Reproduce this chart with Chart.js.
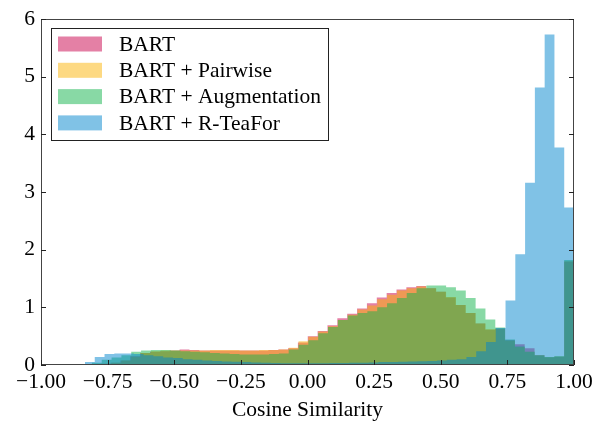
<!DOCTYPE html>
<html>
<head>
<meta charset="utf-8">
<script src="https://cdn.jsdelivr.net/npm/chart.js@4.4.1/dist/chart.umd.min.js"></script>
<style>
  body { margin: 0; background: #fff; }
  canvas { display: block; }
</style>
</head>
<body>
<canvas id="histChart" width="598" height="425"></canvas>
<script>
// series labels, in drawing order (first one is at the bottom)
const seriesNames = ['BART', 'BART + Pairwise', 'BART + Augmentation', 'BART + R-TeaFor'];

// each histogram has 50 bins from its own minimum up to 1.0
const binCount = 50;
const binMax = 1.0;
const binMinBart = -0.850;
const binMinPairwise = -0.846;
const binMinAugment = -0.846;
const binMinTeaFor = -0.835;

// density values, one per bin
const densityBart = [
    0.00, 0.01, 0.02, 0.04, 0.08, 0.15, 0.21, 0.23, 0.24, 0.25,
    0.27, 0.26, 0.25, 0.25, 0.25, 0.25, 0.25, 0.25, 0.25, 0.26,
    0.27, 0.29, 0.39, 0.50, 0.59, 0.69, 0.81, 0.89, 0.98, 1.07,
    1.17, 1.25, 1.31, 1.35, 1.37, 1.33, 1.27, 1.17, 1.04, 0.90,
    0.72, 0.61, 0.63, 0.43, 0.36, 0.29, 0.17, 0.13, 0.14, 1.79
];
const densityPairwise = [
    0.00, 0.01, 0.02, 0.04, 0.08, 0.14, 0.21, 0.24, 0.25, 0.25,
    0.25, 0.25, 0.25, 0.26, 0.26, 0.26, 0.25, 0.25, 0.26, 0.26,
    0.27, 0.30, 0.41, 0.49, 0.58, 0.67, 0.78, 0.87, 0.96, 1.03,
    1.14, 1.22, 1.29, 1.33, 1.36, 1.33, 1.27, 1.18, 1.04, 0.90,
    0.72, 0.62, 0.63, 0.42, 0.31, 0.23, 0.17, 0.14, 0.15, 1.80
];
const densityAugment = [
    0.01, 0.04, 0.09, 0.13, 0.17, 0.23, 0.25, 0.26, 0.26, 0.25,
    0.24, 0.23, 0.22, 0.21, 0.20, 0.19, 0.18, 0.18, 0.18, 0.19,
    0.20, 0.27, 0.35, 0.43, 0.55, 0.66, 0.78, 0.86, 0.90, 0.93,
    1.00, 1.07, 1.16, 1.25, 1.33, 1.38, 1.38, 1.35, 1.29, 1.16,
    0.98, 0.79, 0.65, 0.44, 0.32, 0.23, 0.17, 0.14, 0.15, 1.82
];
const densityTeaFor = [
    0.05, 0.14, 0.19, 0.20, 0.20, 0.19, 0.17, 0.15, 0.13, 0.12,
    0.10, 0.09, 0.08, 0.07, 0.06, 0.055, 0.05, 0.045, 0.04, 0.035,
    0.03, 0.03, 0.03, 0.03, 0.03, 0.035, 0.035, 0.04, 0.04, 0.045,
    0.05, 0.05, 0.055, 0.06, 0.065, 0.07, 0.08, 0.09, 0.10, 0.14,
    0.24, 0.40, 0.64, 1.12, 1.92, 3.16, 4.81, 5.73, 3.77, 2.73
];

// tick values
const xTicks = [-1, -0.75, -0.5, -0.25, 0, 0.25, 0.5, 0.75, 1];
const yTicks = [0, 1, 2, 3, 4, 5, 6];

const colors = [
    'rgba(201, 1, 75, 0.5)',
    'rgba(251, 179, 5, 0.5)',
    'rgba(17, 179, 75, 0.5)',
    'rgba(1, 133, 205, 0.5)'
];

const FONT = "'Liberation Serif', 'Times New Roman', serif";
const FONT_SIZE = 21.5;

// turn bin values into step points (left edge of each bin, closing at the right edge)
const histPoints = (values, min) => {
    const width = (binMax - min) / binCount;
    const pts = [{ x: min, y: 0 }];
    values.forEach((v, i) => {
        pts.push({ x: min + i * width, y: v });
    });
    pts.push({ x: binMax, y: 0 });
    return pts;
};

const allSeries = [
    histPoints(densityBart, binMinBart),
    histPoints(densityPairwise, binMinPairwise),
    histPoints(densityAugment, binMinAugment),
    histPoints(densityTeaFor, binMinTeaFor)
];

const fmtX = (v) => (v < 0 ? '\u2212' : '') + Math.abs(v).toFixed(2);

// frame, inward ticks and legend box
const framePlugin = {
    id: 'frame',
    afterDraw(chart) {
        const ctx = chart.ctx;
        const a = chart.chartArea;
        const xs = chart.scales.x;
        const ys = chart.scales.y;
        ctx.save();
        ctx.strokeStyle = '#444';
        ctx.lineWidth = 1;
        ctx.strokeRect(Math.round(a.left) + 0.5, Math.round(a.top) + 0.5,
            Math.round(a.right - a.left) - 1, Math.round(a.bottom - a.top) - 1);

        ctx.strokeStyle = '#222';
        ctx.beginPath();
        xTicks.forEach(t => {
            const px = Math.round(xs.getPixelForValue(t)) + 0.5;
            ctx.moveTo(px, a.bottom);
            ctx.lineTo(px, a.bottom - 5);
        });
        yTicks.forEach(t => {
            const py = Math.round(ys.getPixelForValue(t)) + 0.5;
            ctx.moveTo(a.left, py);
            ctx.lineTo(a.left + 5, py);
            ctx.moveTo(a.right, py);
            ctx.lineTo(a.right - 5, py);
        });
        ctx.stroke();

        // legend
        const lx = 51.5, ly = 28.5, lw = 277, lh = 112;
        ctx.fillStyle = '#fff';
        ctx.fillRect(lx, ly, lw, lh);
        ctx.strokeStyle = '#222';
        ctx.strokeRect(lx, ly, lw, lh);
        ctx.font = FONT_SIZE + 'px ' + FONT;
        ctx.textBaseline = 'middle';
        chart.data.datasets.forEach((ds, i) => {
            const cy = 44 + i * 26.3;
            ctx.fillStyle = ds.backgroundColor;
            ctx.fillRect(58, cy - 7.5, 44, 15);
            ctx.fillStyle = '#000';
            ctx.fillText(ds.label, 119, cy + 1);
        });
        ctx.restore();
    }
};

const datasets = seriesNames.map((name, i) => ({
    label: name,
    data: allSeries[i],
    backgroundColor: colors[i],
    borderWidth: 0,
    pointRadius: 0,
    stepped: 'before',
    fill: 'origin',
    // later series drawn on top
    order: seriesNames.length - i
}));

new Chart(document.getElementById('histChart'), {
    type: 'line',
    data: { datasets: datasets },
    options: {
        responsive: false,
        animation: false,
        layout: { padding: { top: 18, right: 24, left: 0, bottom: 0 } },
        plugins: {
            legend: { display: false },
            tooltip: { enabled: false }
        },
        scales: {
            x: {
                type: 'linear',
                min: -1,
                max: 1,
                afterFit: (scale) => { scale.height = 60; },
                afterBuildTicks: (scale) => { scale.ticks = xTicks.map(v => ({ value: v })); },
                grid: { display: false, drawTicks: false },
                border: { display: false },
                ticks: {
                    color: '#000',
                    padding: 4,
                    maxRotation: 0,
                    autoSkip: false,
                    font: { family: FONT, size: FONT_SIZE },
                    callback: (v) => fmtX(v)
                },
                title: {
                    display: true,
                    text: 'Cosine Similarity',
                    color: '#000',
                    font: { family: FONT, size: FONT_SIZE },
                    padding: { top: 0, bottom: 2 }
                }
            },
            y: {
                min: 0,
                max: 6,
                afterFit: (scale) => { scale.width = 41; },
                afterBuildTicks: (scale) => { scale.ticks = yTicks.map(v => ({ value: v })); },
                grid: { display: false, drawTicks: false },
                border: { display: false },
                ticks: {
                    color: '#000',
                    padding: 6,
                    font: { family: FONT, size: FONT_SIZE }
                }
            }
        }
    },
    plugins: [framePlugin]
});
</script>
</body>
</html>
